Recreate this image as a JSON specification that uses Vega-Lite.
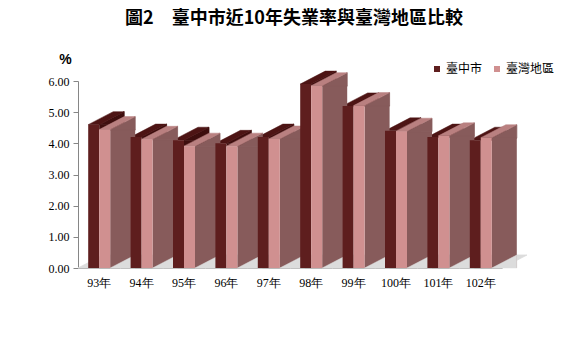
{
  "$schema": "https://vega.github.io/schema/vega-lite/v6.json",
  "width": 424,
  "height": 187,
  "autosize": {"type": "none"},
  "padding": {"left": 78, "top": 81, "right": 66, "bottom": 86},
  "background": "#ffffff",
  "title": {
    "text": "圖2　臺中市近10年失業率與臺灣地區比較",
    "font": "Noto Sans CJK TC",
    "fontSize": 18,
    "fontWeight": "bold",
    "color": "#000000",
    "anchor": "middle",
    "dx": 4,
    "offset": 24
  },
  "data": {
    "values": [
      {"year": "93年", "tc": 4.6, "tw": 4.44},
      {"year": "94年", "tc": 4.2, "tw": 4.13},
      {"year": "95年", "tc": 4.1, "tw": 3.91},
      {"year": "96年", "tc": 4.0, "tw": 3.91},
      {"year": "97年", "tc": 4.2, "tw": 4.14},
      {"year": "98年", "tc": 5.9, "tw": 5.85},
      {"year": "99年", "tc": 5.2, "tw": 5.21},
      {"year": "100年", "tc": 4.4, "tw": 4.39},
      {"year": "101年", "tc": 4.2, "tw": 4.24},
      {"year": "102年", "tc": 4.1, "tw": 4.18}
    ]
  },
  "encoding": {
    "x": {"field": "year", "type": "nominal", "sort": null, "title": null,
          "scale": {"paddingInner": 0, "paddingOuter": 0}}
  },
  "layer": [
    {
      "mark": {"type": "point", "filled": true, "opacity": 1, "size": 4, "strokeWidth": 0.8, "stroke": "#dcdcdc",
               "shape": "M-21.2,0 L21.2,0 L46.2,-13 L3.8,-13 Z", "fill": "#dcdcdc"},
      "encoding": {"y": {"datum": 0, "type": "quantitative", "title": "%",
                         "scale": {"domain": [0, 6], "nice": false, "zero": true}}}
    },
    {
      "mark": {"type": "bar", "width": 25, "xOffset": 12.5, "color": "#3e0e0e"},
      "encoding": {"y": {"field": "tc", "type": "quantitative", "title": "%"},
                   "y2": {"field": "tw"}}
    },
    {
      "mark": {"type": "point", "filled": true, "opacity": 1, "size": 4, "strokeWidth": 0.8, "stroke": "#3e0e0e",
               "shape": "M0,0 L25,-13 L25,0 Z", "fill": "#3e0e0e"},
      "encoding": {"y": {"field": "tc", "type": "quantitative", "title": "%"}}
    },
    {
      "mark": {"type": "point", "filled": true, "opacity": 1, "size": 4, "strokeWidth": 0.5, "stroke": "#4d1414",
               "shape": "M-11,0 L0,0 L25,-13 L14,-13 Z", "fill": "#4d1414"},
      "encoding": {"y": {"field": "tc", "type": "quantitative", "title": "%"}}
    },
    {
      "mark": {"type": "bar", "width": 25, "xOffset": 23.5, "color": "#875b5b"},
      "encoding": {"y": {"field": "tw", "type": "quantitative", "title": "%"}}
    },
    {
      "mark": {"type": "point", "filled": true, "opacity": 1, "size": 4, "strokeWidth": 0.8, "stroke": "#875b5b",
               "shape": "M11,0.5 L36,-13 L36,0.5 Z", "fill": "#875b5b"},
      "encoding": {"y": {"field": "tw", "type": "quantitative", "title": "%"}}
    },
    {
      "mark": {"type": "point", "filled": true, "opacity": 1, "size": 4, "strokeWidth": 0.5, "stroke": "#dcdcdc",
               "shape": "M11,0 L36,0 L36,-13 Z", "fill": "#dcdcdc"},
      "encoding": {"y": {"datum": 0, "type": "quantitative", "title": "%"}}
    },
    {
      "mark": {"type": "point", "filled": true, "opacity": 1, "size": 4, "strokeWidth": 0.5, "stroke": "#b98080",
               "shape": "M0,0 L11,0 L36,-13 L25,-13 Z", "fill": "#b98080"},
      "encoding": {"y": {"field": "tw", "type": "quantitative", "title": "%"}}
    },
    {
      "mark": {"type": "bar", "width": 11, "xOffset": -5.5},
      "encoding": {
        "y": {"field": "tc", "type": "quantitative", "title": "%"},
        "color": {"datum": "臺中市",
                  "scale": {"domain": ["臺中市", "臺灣地區"], "range": ["#5e1e1e", "#d09090"]},
                  "legend": {"orient": "none", "legendX": 353, "legendY": -18, "direction": "horizontal",
                             "title": null, "symbolType": "square", "symbolSize": 36, "symbolStrokeWidth": 0,
                             "labelFont": "Noto Sans CJK TC", "labelFontSize": 12, "labelColor": "#000000",
                             "labelOffset": 3, "columnPadding": 8, "padding": 0}}
      }
    },
    {
      "mark": {"type": "bar", "width": 11, "xOffset": 5.5},
      "encoding": {
        "y": {"field": "tw", "type": "quantitative", "title": "%"},
        "color": {"datum": "臺灣地區"}
      }
    }
  ],
  "config": {
    "view": {"stroke": null},
    "axisY": {"domainColor": "#868686", "tickColor": "#868686", "tickSize": 5, "grid": false,
              "labelFont": "Liberation Serif", "labelFontSize": 12, "labelColor": "#000000", "labelPadding": 4,
              "tickCount": 6, "format": ".2f",
              "titleAngle": 0, "titleX": -13, "titleY": -18, "titleAlign": "center", "titleBaseline": "alphabetic",
              "titleFont": "Liberation Sans", "titleFontSize": 14, "titleFontWeight": "bold", "titleColor": "#000000"},
    "axisX": {"domainColor": "#a0a0a0", "ticks": false, "grid": false, "labelAngle": 0,
              "labelFont": "Liberation Serif", "labelFontSize": 12, "labelColor": "#000000", "labelPadding": 9}
  }
}
